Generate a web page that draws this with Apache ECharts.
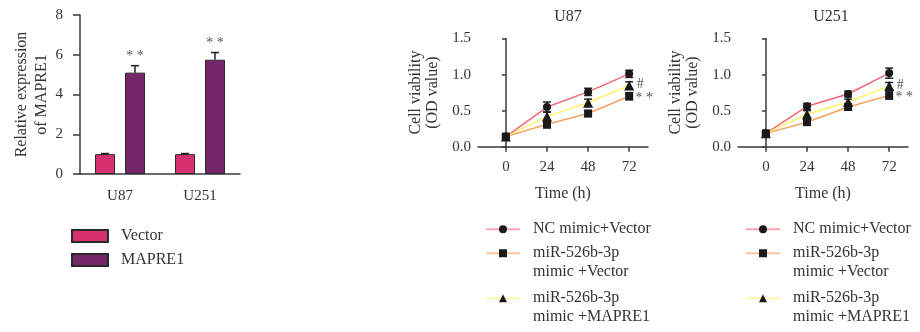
<!DOCTYPE html>
<html>
<head>
<meta charset="utf-8">
<script src="https://cdn.jsdelivr.net/npm/echarts@6.0.0/dist/echarts.min.js"></script>
<style>
  html, body { margin: 0; padding: 0; background: #fff; }
  #chart { width: 920px; height: 332px; }
</style>
</head>
<body>
<div id="chart"></div>
<script>
// ---- data ----
var barCats = ['U87', 'U251'];
var vectorVals = [1.0, 1.0];
var vectorErr = [0.03, 0.03];
var mapreVals = [5.1, 5.75];
var mapreErr = [0.35, 0.36];
var barStars = ['* *', '* *'];

var timeTicks = [0, 24, 48, 72];
var u87NC = [0.14, 0.55, 0.76, 1.01];
var u87Vec = [0.14, 0.31, 0.46, 0.70];
var u87Map = [0.14, 0.42, 0.61, 0.85];
var u87NCErr = [0.02, 0.07, 0.05, 0.05];
var u87VecErr = [0.02, 0.05, 0.04, 0.05];
var u87MapErr = [0.02, 0.06, 0.05, 0.05];

var u251NC = [0.185, 0.56, 0.73, 1.02];
var u251Vec = [0.185, 0.34, 0.55, 0.71];
var u251Map = [0.185, 0.45, 0.62, 0.84];
var u251NCErr = [0.02, 0.04, 0.04, 0.07];
var u251VecErr = [0.02, 0.04, 0.04, 0.05];
var u251MapErr = [0.02, 0.05, 0.04, 0.05];

var lineNames = ['NC mimic+Vector', 'miR-526b-3p\nmimic +Vector', 'miR-526b-3p\nmimic +MAPRE1'];
var lineColors = ['#f2687a', '#f6a262', '#fff06c'];
var lineSymbols = ['circle', 'rect', 'triangle'];
var endMarks = ['#', '* *'];   // next to MAPRE1 and Vector end points

var FONT = 'Liberation Serif';
var TXT = '#333';
var AX = '#3a3a3a';

// bar geometry
var BAR_W = 20, BAR_GAP = 10;
var barOff = (BAR_W + BAR_GAP) / 2;

function pairs(xs, ys, es) {
  return ys.map(function (y, i) { return [xs[i], y, es ? es[i] : 0]; });
}

function errSeries(xi, yi, data, offsetPx, upOnly) {
  return {
    type: 'custom', xAxisIndex: xi, yAxisIndex: yi, z: 3, silent: true,
    data: data,
    renderItem: function (params, api) {
      var x = api.value(0), y = api.value(1), e = api.value(2);
      var top = api.coord([x, y + e]);
      var bot = api.coord([x, upOnly ? y : y - e]);
      var cx = top[0] + offsetPx, w = 4;
      var st = { stroke: '#222', lineWidth: 1.5 };
      var ch = [
        { type: 'line', shape: { x1: cx, y1: top[1], x2: cx, y2: bot[1] }, style: st },
        { type: 'line', shape: { x1: cx - w, y1: top[1], x2: cx + w, y2: top[1] }, style: st }
      ];
      if (!upOnly) ch.push({ type: 'line', shape: { x1: cx - w, y1: bot[1], x2: cx + w, y2: bot[1] }, style: st });
      return { type: 'group', children: ch };
    }
  };
}

// text marks placed next to data points; dx/dy are per-item pixel nudges
function annoSeries(xi, yi, data, texts, dx, dy) {
  return {
    type: 'custom', xAxisIndex: xi, yAxisIndex: yi, z: 5, silent: true,
    data: data,
    renderItem: function (params, api) {
      var i = params.dataIndex;
      var p = api.coord([api.value(0), api.value(1)]);
      return {
        type: 'text', x: p[0] + dx[i], y: p[1] + dy[i],
        style: { text: texts[i], fill: '#555', font: '14px "' + FONT + '"',
                 align: 'center', verticalAlign: 'middle' }
      };
    }
  };
}

var series = [];
var legends = [];

// ---- bar chart ----
series.push({
  name: 'Vector', type: 'bar', xAxisIndex: 0, yAxisIndex: 0,
  barWidth: BAR_W, barGap: (BAR_GAP / BAR_W * 100) + '%',
  itemStyle: { color: '#d6306f', borderColor: '#2a2a2a', borderWidth: 1 },
  data: vectorVals
});
series.push({
  name: 'MAPRE1', type: 'bar', xAxisIndex: 0, yAxisIndex: 0,
  barWidth: BAR_W,
  itemStyle: { color: '#74266a', borderColor: '#2a2a2a', borderWidth: 1 },
  data: mapreVals
});
series.push(errSeries(0, 0, pairs([0, 1], vectorVals, vectorErr), -barOff, true));
series.push(errSeries(0, 0, pairs([0, 1], mapreVals, mapreErr), barOff, true));
series.push(annoSeries(0, 0,
  pairs([0, 1], mapreVals.map(function (v, i) { return v + mapreErr[i]; })),
  barStars, [barOff, barOff], [-9, -9]));

legends.push({
  orient: 'vertical', left: 71, top: 227, padding: 0, itemGap: 6,
  itemWidth: 36, itemHeight: 12, icon: 'rect',
  textStyle: { fontFamily: FONT, fontSize: 16, color: TXT, lineHeight: 18, padding: [0, 0, 0, 8] },
  data: ['Vector', 'MAPRE1']
});

// ---- line charts ----
function addLineChart(idx, sets, errs, legendLeft) {
  sets.forEach(function (vals, k) {
    series.push({
      name: lineNames[k], type: 'line', xAxisIndex: idx, yAxisIndex: idx, z: 4,
      symbol: lineSymbols[k], symbolSize: k === 2 ? 10 : 8,
      itemStyle: { color: '#1a1a1a' },
      lineStyle: { color: lineColors[k], width: 1.5 },
      data: pairs(timeTicks, vals)
    });
    series.push(errSeries(idx, idx, pairs(timeTicks, vals, errs[k]), 0, false));
  });
  var last = timeTicks.length - 1;
  series.push(annoSeries(idx, idx,
    [[timeTicks[last], sets[2][last]], [timeTicks[last], sets[1][last]]],
    endMarks, [11, 15], [-1, 2]));

  var tops = [220, 225.5, 270.5];
  lineNames.forEach(function (nm, k) {
    legends.push({
      left: legendLeft, top: tops[k], padding: 0,
      itemWidth: 34, itemHeight: 10,
      lineStyle: { opacity: 0.6, width: 2 },
      // leading blank line keeps the first text line level with the icon
      formatter: function (name) { return name.indexOf('\n') >= 0 ? '\n' + name : name; },
      textStyle: { fontFamily: FONT, fontSize: 16, color: TXT, lineHeight: 18.5, padding: [0, 0, 0, 8] },
      data: [nm]
    });
  });
}

addLineChart(1, [u87NC, u87Vec, u87Map], [u87NCErr, u87VecErr, u87MapErr], 485);
addLineChart(2, [u251NC, u251Vec, u251Map], [u251NCErr, u251VecErr, u251MapErr], 745);

var axisLineStyle = { lineStyle: { color: AX, width: 1.5 } };
var tickStyle = { fontFamily: FONT, fontSize: 15, color: TXT };
var nameStyle = { fontFamily: FONT, fontSize: 16, color: TXT };

function lineXAxis(gi) {
  return {
    type: 'value', gridIndex: gi, min: -16.3, max: 83,
    name: 'Time (h)', nameLocation: 'middle', nameGap: 39,
    nameTextStyle: nameStyle,
    axisLine: axisLineStyle,
    axisTick: { show: true, length: 5, customValues: timeTicks, lineStyle: { color: AX, width: 1.5 } },
    axisLabel: Object.assign({ margin: 13, customValues: timeTicks }, tickStyle),
    splitLine: { show: false }
  };
}
function lineYAxis(gi) {
  return {
    type: 'value', gridIndex: gi, min: 0, max: 1.5, interval: 0.5,
    name: 'Cell viability\n(OD value)', nameLocation: 'middle', nameGap: 37, nameRotate: 90,
    nameTextStyle: Object.assign({ lineHeight: 17 }, nameStyle),
    axisLine: { show: true, lineStyle: { color: AX, width: 1.5 } },
    axisTick: { show: true, length: 4, lineStyle: { color: AX, width: 1.5 } },
    axisLabel: Object.assign({ margin: 7, formatter: function (v) { return v.toFixed(1); } }, tickStyle),
    splitLine: { show: false }
  };
}

var titleStyle = { fontFamily: FONT, fontSize: 16, fontWeight: 'normal', color: TXT };

var option = {
  backgroundColor: '#fff',
  animation: false,
  title: [
    { text: 'U87', left: 563, top: 4, textAlign: 'center', textStyle: titleStyle },
    { text: 'U251', left: 826, top: 4, textAlign: 'center', textStyle: titleStyle }
  ],
  legend: legends,
  grid: [
    { left: 80, width: 160, top: 15, height: 159, outerBoundsMode: 'none' },
    { left: 478, width: 170, top: 38.5, height: 108.2, outerBoundsMode: 'none' },
    { left: 738, width: 170, top: 38.5, height: 108.2, outerBoundsMode: 'none' }
  ],
  xAxis: [
    {
      type: 'category', gridIndex: 0, data: barCats,
      axisLine: axisLineStyle,
      axisTick: { alignWithLabel: true, length: 7, lineStyle: { color: AX, width: 1.5 } },
      axisLabel: Object.assign({ margin: 15 }, tickStyle)
    },
    lineXAxis(1),
    lineXAxis(2)
  ],
  yAxis: [
    {
      type: 'value', gridIndex: 0, min: 0, max: 8, interval: 2,
      name: 'Relative expression\nof MAPRE1', nameLocation: 'middle', nameGap: 28, nameRotate: 90,
      nameTextStyle: Object.assign({ lineHeight: 20 }, nameStyle),
      axisLine: { show: true, lineStyle: { color: AX, width: 1.5 } },
      axisTick: { show: true, length: 7, lineStyle: { color: AX, width: 1.5 } },
      axisLabel: Object.assign({ margin: 17 }, tickStyle),
      splitLine: { show: false }
    },
    lineYAxis(1),
    lineYAxis(2)
  ],
  series: series
};

var myChart = echarts.init(document.getElementById('chart'));
myChart.setOption(option, true);
</script>
</body>
</html>
